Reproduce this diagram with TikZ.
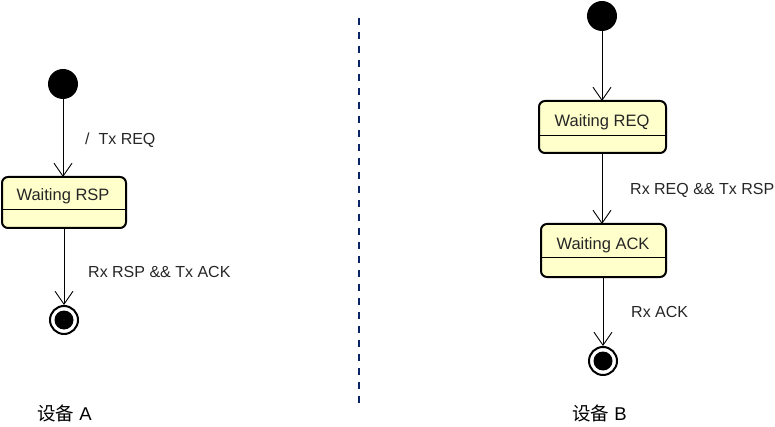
\documentclass[tikz,border=0pt]{standalone}
\usepackage{fontspec}
\setmainfont{Liberation Sans}
\newfontfamily\cjk{Noto Sans CJK SC}
\usetikzlibrary{arrows.meta}
\definecolor{statefill}{HTML}{FFFFCC}
\definecolor{divblue}{HTML}{0A2466}
\tikzset{
  statebox/.style={draw=black, line width=2pt, fill=statefill, rounded corners=6pt},
  initstate/.style={circle, fill=black, minimum size=30pt, inner sep=0pt},
  finalouter/.style={circle, draw=black, line width=2pt, fill=white, minimum size=28pt, inner sep=0pt},
  finalinner/.style={circle, fill=black, minimum size=19pt, inner sep=0pt},
  trans/.style={draw=black, line width=0.9pt, -{Straight Barb[length=13pt,width=18pt,line width=0.9pt]}},
  lbl/.style={font=\fontsize{16}{19}\selectfont, anchor=west, inner sep=0pt, text=black!85},
  slbl/.style={font=\fontsize{16.5}{19}\selectfont, inner sep=0pt, text=black!85},
  devlbl/.style={font=\fontsize{18.5}{21}\selectfont, anchor=west, inner sep=0pt},
}
\begin{document}
\begin{tikzpicture}[x=1pt,y=-1pt]
\useasboundingbox (0,0) rectangle (775,427);
% ---- Device A ----
\node[initstate] (iA) at (63,84) {};
\draw[statebox] (2,177) rectangle (126,228);
\draw[line width=1pt] (3,210) -- (125,210);
\coordinate (Atop) at (63,177);
\coordinate (Abot) at (64,228);
\node[slbl] (tA) at (63,196) {Waiting RSP};
\node[finalouter] (fA) at (64,320) {};
\node[finalinner] (fAi) at (fA.center) {};
\draw[trans] (iA.south) -- (Atop);
\draw[trans] (Abot) -- (fA.north);
\node[lbl] (l1) at (85,140) {/~~Tx REQ};
\node[lbl] (l2) at (88,272) {Rx RSP \&\& Tx ACK};
\node[devlbl] (dA) at (37,413) {{\cjk 设备} A};
% ---- divider ----
\coordinate (dtop) at (359,18);
\coordinate (dbot) at (359,410);
\draw[divblue, line width=2pt, dash pattern=on 7pt off 7pt] (dtop) -- (dbot);
% ---- Device B ----
\node[initstate] (iB) at (602,16) {};
\draw[statebox] (539,101) rectangle (666,153);
\draw[line width=1pt] (540,136) -- (665,136);
\coordinate (B1top) at (602,101);
\coordinate (B1bot) at (602,153);
\node[slbl] (tB1) at (602,122) {Waiting REQ};
\draw[statebox] (541,224) rectangle (666,277);
\draw[line width=1pt] (542,258) -- (665,258);
\coordinate (B2top) at (602,224);
\coordinate (B2bot) at (603,277);
\node[slbl] (tB2) at (603,245) {Waiting ACK};
\node[finalouter] (fB) at (603,361) {};
\node[finalinner] (fBi) at (fB.center) {};
\draw[trans] (iB.south) -- (B1top);
\draw[trans] (B1bot) -- (B2top);
\draw[trans] (B2bot) -- (fB.north);
\node[lbl] (l3) at (630,190) {Rx REQ \&\& Tx RSP};
\node[lbl] (l4) at (631,312) {Rx ACK};
\node[devlbl] (dB) at (572,413) {{\cjk 设备} B};
\end{tikzpicture}
\end{document}
